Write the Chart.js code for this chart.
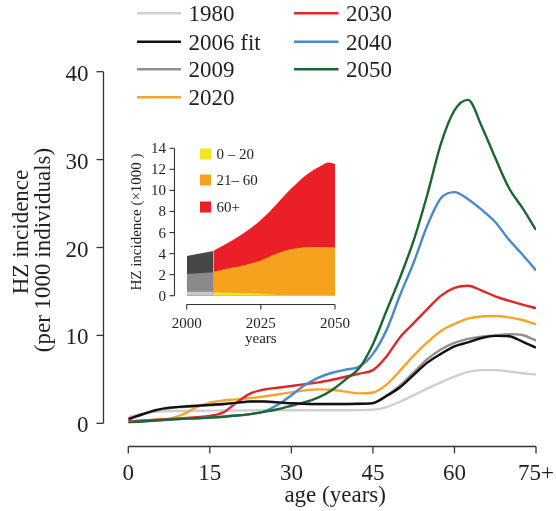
<!DOCTYPE html>
<html>
<head>
<meta charset="utf-8">
<script src="https://cdn.jsdelivr.net/npm/chart.js@4.4.1/dist/chart.umd.min.js"></script>
<style>
  html, body { margin: 0; padding: 0; background: #fff; }
  #wrap { position: relative; width: 556px; height: 511px; }
  #main { position: absolute; left: 0; top: 0; }
  #inset { position: absolute; left: 110px; top: 135px; }
</style>
</head>
<body>
<div id="wrap">
  <canvas id="main" width="556" height="511"></canvas>
  <canvas id="inset" width="240" height="220"></canvas>
</div>
<script>
// ---------- main chart data ----------
const ages = [0,2.5,5,7.5,10,12.5,15,17.5,20,22.5,25,27.5,30,32.5,35,37.5,40,42.5,45,47.5,50,52.5,55,57.5,60,62.5,65,67.5,70,72.5,75];
const inc1980 = [0.7,1.1,1.3,1.38,1.4,1.42,1.44,1.45,1.46,1.47,1.48,1.48,1.48,1.48,1.48,1.48,1.49,1.5,1.55,1.85,2.45,3.2,3.95,4.65,5.3,5.85,6.05,6.05,5.9,5.7,5.55];
const inc2006fit = [0.45,1.0,1.5,1.78,1.9,2.0,2.1,2.2,2.35,2.5,2.5,2.38,2.28,2.22,2.2,2.2,2.2,2.22,2.3,3.1,4.1,5.5,6.9,7.9,8.75,9.2,9.7,9.95,9.9,9.3,8.6];
const inc2009 = [0.55,1.0,1.42,1.7,1.85,1.95,2.05,2.15,2.3,2.45,2.45,2.35,2.25,2.2,2.18,2.18,2.18,2.2,2.3,3.15,4.3,5.8,7.3,8.4,9.15,9.6,9.85,10.0,10.15,10.05,9.4];
const inc2020 = [0.25,0.32,0.38,0.52,1.0,1.8,2.35,2.6,2.72,2.88,3.05,3.3,3.52,3.75,3.86,3.82,3.6,3.4,3.5,4.4,6.0,7.7,9.2,10.5,11.3,11.9,12.15,12.2,12.05,11.75,11.25];
const inc2030 = [0.2,0.3,0.4,0.48,0.58,0.7,0.85,1.25,2.4,3.4,3.85,4.05,4.25,4.45,4.65,4.95,5.3,5.65,6.05,7.6,9.8,11.4,13.0,14.5,15.4,15.65,15.1,14.45,13.95,13.5,13.1];
const inc2040 = [0.1,0.22,0.32,0.42,0.5,0.58,0.66,0.75,0.88,1.05,1.35,2.1,3.2,4.35,5.2,5.75,6.1,6.45,7.9,10.6,14.6,18.3,22.5,25.6,26.3,25.5,24.3,22.9,20.9,19.2,17.4];
const inc2050 = [0.05,0.2,0.32,0.42,0.5,0.58,0.65,0.75,0.88,1.05,1.3,1.6,2.0,2.4,2.95,3.8,5.0,6.3,9.0,12.8,16.6,20.8,26.0,31.8,35.6,36.8,33.8,30.2,26.8,24.5,22.0];
const seriesLabels = ['1980','2006 fit','2009','2020','2030','2040','2050'];
const seriesColors = ['#cfcfcf','#111111','#8f8f8f','#f6a52a','#e0262b','#4a88c9','#1e6630'];
const yTickValues = [0,10,20,30,40];
const xTickValues = [0,15,30,45,60,75];
const xTickLabels = ['0','15','30','45','60','75+'];

// ---------- inset data ----------
const yearsPast = [2000, 2009];
const pastLow = [0.38, 0.38];
const pastMid = [1.68, 1.84];
const pastHigh = [1.71, 2.03];
const yearsProj = [2009,2015,2020,2025,2030,2035,2040,2045,2048,2050];
const age0_20 = [0.32,0.28,0.24,0.18,0.10,0.07,0.06,0.06,0.06,0.06];
const age21_60 = [1.96,2.37,2.71,3.17,3.85,4.33,4.54,4.56,4.54,4.54];
const age60p = [2.00,2.55,3.15,3.85,4.65,5.70,6.80,7.68,8.05,7.90];
const insetLegend = ['0 – 20','21– 60','60+'];
const insetColors = ['#f2e61c','#f6a21e','#ea1f28'];
const insetGrays = ['#c9c9c9','#8a8a8a','#474747'];
const insetYTicks = [0,2,4,6,8,10,12,14];
const insetXTicks = [2000,2025,2050];

const SERIF = '"Liberation Serif", "Times New Roman", serif';
const TXT = '#231f20';
const AX = '#333333';

// ---------- main chart ----------
const mainSeries = [inc1980, inc2006fit, inc2009, inc2020, inc2030, inc2040, inc2050];
const drawOrder = [7, 1, 2, 6, 5, 4, 3]; // lower order drawn on top
const mainDatasets = mainSeries.map((arr, i) => ({
  label: seriesLabels[i],
  data: ages.map((a, j) => ({x: a, y: arr[j]})),
  borderColor: seriesColors[i],
  backgroundColor: seriesColors[i],
  borderWidth: 2.4,
  pointRadius: 0,
  cubicInterpolationMode: 'monotone',
  fill: false,
  order: drawOrder[i]
}));

const mainAxes = {
  id: 'mainAxes',
  afterDraw(chart) {
    const {ctx, scales: {x, y}} = chart;
    ctx.save();
    ctx.strokeStyle = AX;
    ctx.lineWidth = 1.3;
    ctx.fillStyle = TXT;
    ctx.font = '23px ' + SERIF;
    // y axis
    const ax = 103.5;
    ctx.beginPath();
    ctx.moveTo(ax, y.getPixelForValue(yTickValues[0]));
    ctx.lineTo(ax, y.getPixelForValue(yTickValues[yTickValues.length - 1]));
    ctx.stroke();
    ctx.textAlign = 'right';
    ctx.textBaseline = 'alphabetic';
    yTickValues.forEach(v => {
      const py = y.getPixelForValue(v);
      ctx.beginPath(); ctx.moveTo(ax - 7, py); ctx.lineTo(ax, py); ctx.stroke();
      ctx.fillText(String(v), 88.5, py + 9);
    });
    // x axis
    const ay = 446.5;
    ctx.beginPath();
    ctx.moveTo(x.getPixelForValue(xTickValues[0]), ay);
    ctx.lineTo(x.getPixelForValue(xTickValues[xTickValues.length - 1]), ay);
    ctx.stroke();
    ctx.textAlign = 'center';
    xTickValues.forEach((v, i) => {
      const px = x.getPixelForValue(v);
      ctx.beginPath(); ctx.moveTo(px, ay); ctx.lineTo(px, ay + 7); ctx.stroke();
      ctx.fillText(xTickLabels[i], px, 479.5);
    });
    ctx.fillText('age (years)', (x.left + x.right) / 2 + 3, 502);
    // y title
    ctx.save();
    ctx.translate(28, 232);
    ctx.rotate(-Math.PI / 2);
    ctx.fillText('HZ incidence', 0, 0);
    ctx.restore();
    ctx.save();
    ctx.translate(50, 250);
    ctx.rotate(-Math.PI / 2);
    ctx.fillText('(per 1000 individuals)', 0, 0);
    ctx.restore();
    // legend (two columns, column-major)
    ctx.textAlign = 'left';
    const rowsY = [13.3, 41.7, 69.3, 97.3];
    chart.data.datasets.forEach((ds, i) => {
      const col = i < 4 ? 0 : 1;
      const row = i < 4 ? i : i - 4;
      const lx0 = col === 0 ? 137 : 294;
      const lx1 = col === 0 ? 181 : 338.5;
      const tx = col === 0 ? 188.5 : 346;
      const yy = rowsY[row];
      ctx.strokeStyle = ds.borderColor;
      ctx.lineWidth = 2.4;
      ctx.beginPath(); ctx.moveTo(lx0, yy); ctx.lineTo(lx1, yy); ctx.stroke();
      ctx.fillStyle = TXT;
      ctx.fillText(ds.label, tx, yy + 8);
    });
    ctx.restore();
  }
};

new Chart(document.getElementById('main'), {
  type: 'line',
  data: {datasets: mainDatasets},
  options: {
    responsive: false,
    animation: false,
    layout: {padding: {left: 128.3, right: 20, top: 71.7, bottom: 87.7}},
    scales: {
      x: {type: 'linear', min: 0, max: 75, display: false},
      y: {type: 'linear', min: 0, max: 40, display: false}
    },
    plugins: {legend: {display: false}, tooltip: {enabled: false}}
  },
  plugins: [mainAxes]
});

// ---------- inset chart ----------
function cum(arrays) {
  const out = [];
  let run = arrays[0].map(() => 0);
  arrays.forEach(a => { run = run.map((r, i) => r + a[i]); out.push(run.slice()); });
  return out;
}
const pastCum = cum([pastLow, pastMid, pastHigh]);
const projCum = cum([age0_20, age21_60, age60p]);
const insetDatasets = [];
pastCum.forEach((arr, i) => insetDatasets.push({
  data: yearsPast.map((yr, j) => ({x: yr, y: arr[j]})),
  backgroundColor: insetGrays[i], borderWidth: 0, pointRadius: 0, fill: 'origin'
}));
projCum.forEach((arr, i) => insetDatasets.push({
  label: insetLegend[i],
  data: yearsProj.map((yr, j) => ({x: yr, y: arr[j]})),
  backgroundColor: insetColors[i], borderWidth: 0, pointRadius: 0, fill: 'origin',
  cubicInterpolationMode: 'monotone'
}));

const insetAxes = {
  id: 'insetAxes',
  afterDraw(chart) {
    const {ctx, scales: {x, y}} = chart;
    ctx.save();
    ctx.strokeStyle = AX;
    ctx.lineWidth = 1.1;
    ctx.fillStyle = TXT;
    ctx.font = '15px ' + SERIF;
    // y axis
    const ax = 64.5;
    ctx.beginPath();
    ctx.moveTo(ax, y.getPixelForValue(insetYTicks[0]));
    ctx.lineTo(ax, y.getPixelForValue(insetYTicks[insetYTicks.length - 1]));
    ctx.stroke();
    ctx.textAlign = 'right';
    insetYTicks.forEach(v => {
      const py = y.getPixelForValue(v);
      ctx.beginPath(); ctx.moveTo(ax - 5, py); ctx.lineTo(ax, py); ctx.stroke();
      ctx.fillText(String(v), 56, py + 5);
    });
    // x axis
    const ay = 169.5;
    ctx.beginPath();
    ctx.moveTo(x.getPixelForValue(insetXTicks[0]), ay);
    ctx.lineTo(x.getPixelForValue(insetXTicks[insetXTicks.length - 1]), ay);
    ctx.stroke();
    ctx.textAlign = 'center';
    insetXTicks.forEach(v => {
      const px = x.getPixelForValue(v);
      ctx.beginPath(); ctx.moveTo(px, ay); ctx.lineTo(px, ay + 5); ctx.stroke();
      ctx.fillText(String(v), px, 193);
    });
    ctx.fillText('years', x.getPixelForValue(2025), 208);
    // y title
    ctx.save();
    ctx.translate(31, 87);
    ctx.rotate(-Math.PI / 2);
    ctx.fillText('HZ incidence (×1000 )', 0, 0);
    ctx.restore();
    // legend
    ctx.textAlign = 'left';
    const rows = [19, 45, 72];
    insetLegend.forEach((lab, i) => {
      ctx.fillStyle = insetColors[i];
      ctx.fillRect(90, rows[i] - 5.5, 11, 11);
      ctx.fillStyle = TXT;
      ctx.fillText(lab, 106.5, rows[i] + 5);
    });
    ctx.restore();
  }
};

new Chart(document.getElementById('inset'), {
  type: 'line',
  data: {datasets: insetDatasets},
  options: {
    responsive: false,
    animation: false,
    layout: {padding: {left: 76.7, right: 15, top: 13.3, bottom: 59.3}},
    scales: {
      x: {type: 'linear', min: 2000, max: 2050, display: false},
      y: {type: 'linear', min: 0, max: 14, display: false}
    },
    plugins: {legend: {display: false}, tooltip: {enabled: false}, filler: {propagate: false}}
  },
  plugins: [insetAxes]
});
</script>
</body>
</html>
